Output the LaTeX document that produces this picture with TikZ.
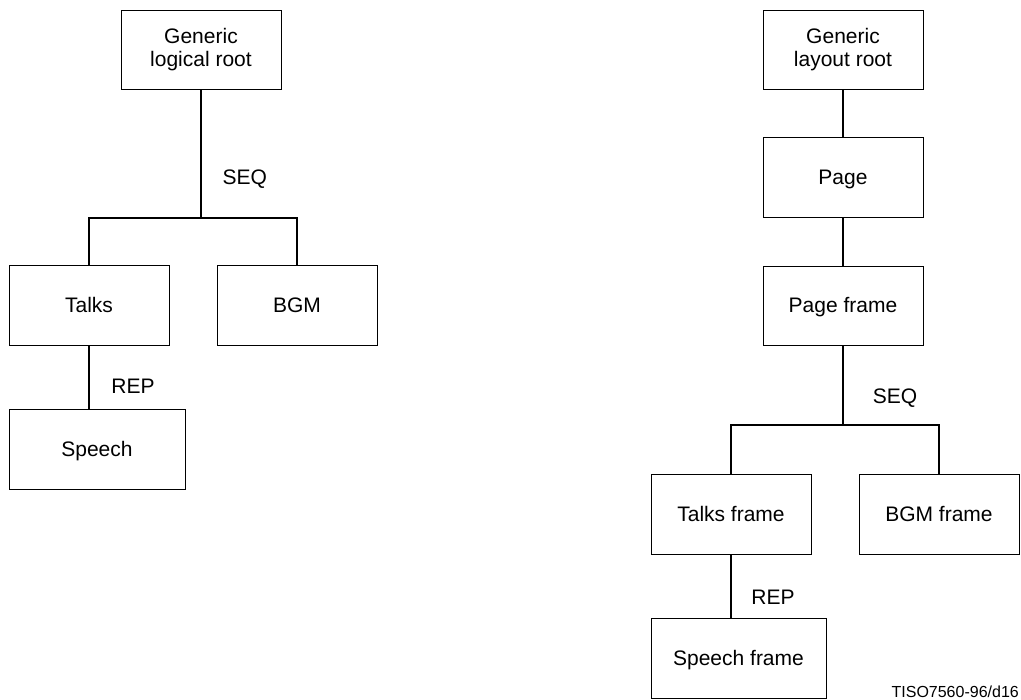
\documentclass[tikz,border=0pt]{standalone}
\usepackage{fontspec}
\setmainfont{Liberation Sans}
\begin{document}
\begin{tikzpicture}[x=1pt,y=-1pt,
  box/.style={draw, line width=0.9pt, minimum width=160pt, minimum height=80pt, inner sep=0pt,
    font=\fontsize{21}{23.5}\selectfont, text height=15pt, text depth=0pt},
  rootbox/.style={draw, line width=0.9pt, minimum width=160pt, minimum height=79pt, inner sep=0pt,
    font=\fontsize{21}{23.5}\selectfont, align=center},
  conn/.style={line width=1.7pt},
  lbl/.style={font=\fontsize{21}{24}\selectfont, anchor=base, inner sep=0pt},
  tag/.style={font=\fontsize{16}{18}\selectfont, anchor=base east, inner sep=0pt}]
\useasboundingbox (0,0) rectangle (1021,700);
% left tree
\node[rootbox] (lroot) at (201,49.5) {Generic\\logical root};
\node[box] (talks) at (89,305) {Talks};
\node[box] (bgm) at (297,305) {BGM};
\node[box, minimum width=176pt] (speech) at (97,449) {Speech};
\coordinate (lj) at (201,218);
\draw[conn] (lroot.south) -- (lj);
\draw[conn] (talks.north) -- (talks.north |- lj) -- (bgm.north |- lj) -- (bgm.north);
\draw[conn] (talks.south) -- (talks.south |- speech.north);
\node[lbl] (lseq) at (244.7,184.3) {SEQ};
\node[lbl] (lrep) at (133,393.3) {REP};
% right tree
\node[rootbox] (rroot) at (843,49.5) {Generic\\layout root};
\node[box] (page) at (843,177) {Page};
\node[box, minimum height=79pt] (pframe) at (843,305.5) {Page frame};
\node[box] (tframe) at (731,514) {Talks frame};
\node[box] (bframe) at (939,514) {BGM frame};
\node[box, minimum width=175pt] (sframe) at (738.5,658) {Speech frame};
\coordinate (rj) at (843,425);
\draw[conn] (rroot.south) -- (page.north);
\draw[conn] (page.south) -- (pframe.north);
\draw[conn] (pframe.south) -- (rj);
\draw[conn] (tframe.north) -- (tframe.north |- rj) -- (bframe.north |- rj) -- (bframe.north);
\draw[conn] (tframe.south) -- (tframe.south |- sframe.north);
\node[lbl] (rseq) at (895,403.3) {SEQ};
\node[lbl] (rrep) at (773,605) {REP};
\node[tag] (tiso) at (1019,697.3) {TISO7560-96/d16};
\end{tikzpicture}
\end{document}
